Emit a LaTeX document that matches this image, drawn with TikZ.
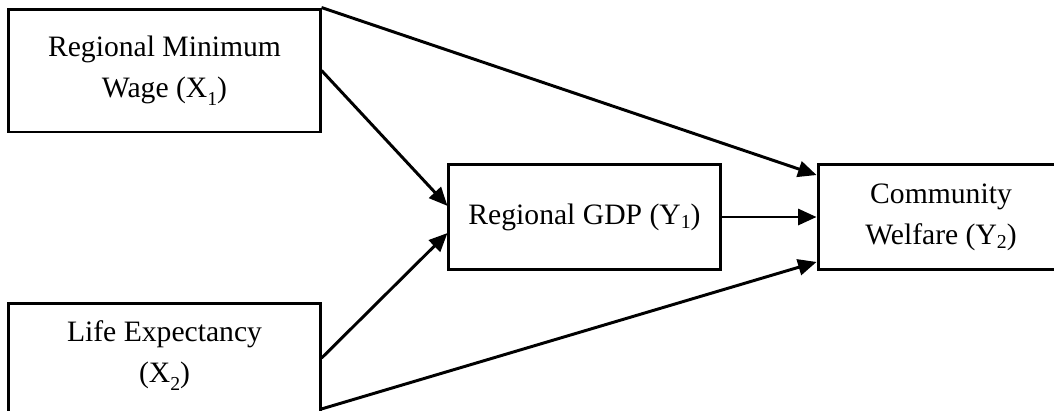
\documentclass[tikz,border=0pt]{standalone}
\usepackage{fontspec}
\setmainfont{Liberation Serif}
\usetikzlibrary{arrows.meta}

\tikzset{
  box/.style={draw, line width=1.2pt, inner sep=0pt, align=center,
    font=\fontsize{12}{16.6}\selectfont},
  link/.style={line width=1.2pt, -{Triangle[length=7.5pt,width=6.5pt]}}
}
\newcommand{\lowsub}[1]{\raisebox{-.6ex}{\footnotesize #1}}
\newcommand{\midsub}[1]{\raisebox{-.3ex}{\footnotesize #1}}

\begin{document}
\begin{tikzpicture}[x=0.405pt, y=-0.405pt]
  \clip (0,0) rectangle (1054,410);
  % variables
  \node[box, minimum width=126pt, minimum height=49.8pt] (x1) at (164.5,70.5)
    {Regional Minimum\\Wage (X\lowsub{1})};
  \node[box, minimum width=126pt, minimum height=49.8pt, text depth=10.8pt] (x2) at (164.5,364.5)
    {Life Expectancy\\(X\lowsub{2})};
  \node[box, minimum width=109.8pt, minimum height=42.9pt] (y1) at (584.5,217)
    {Regional GDP (Y\midsub{1})};
  \node[box, minimum width=99.6pt, minimum height=42.9pt] (y2) at (941,217)
    {Community\\Welfare (Y\midsub{2})};
  % paths
  \draw[link] (x1.north east) -- ([yshift=17pt]y2.west);
  \draw[link] (x1.east) -- ([yshift=4.5pt]y1.west);
  \draw[link] ([yshift=2.6pt]x2.east) -- ([yshift=-6.5pt]y1.west);
  \draw[link] ([yshift=-18pt]x2.east) -- ([yshift=-18.2pt]y2.west);
  \draw[link] (y1.east) -- (y2.west);
\end{tikzpicture}
\end{document}
